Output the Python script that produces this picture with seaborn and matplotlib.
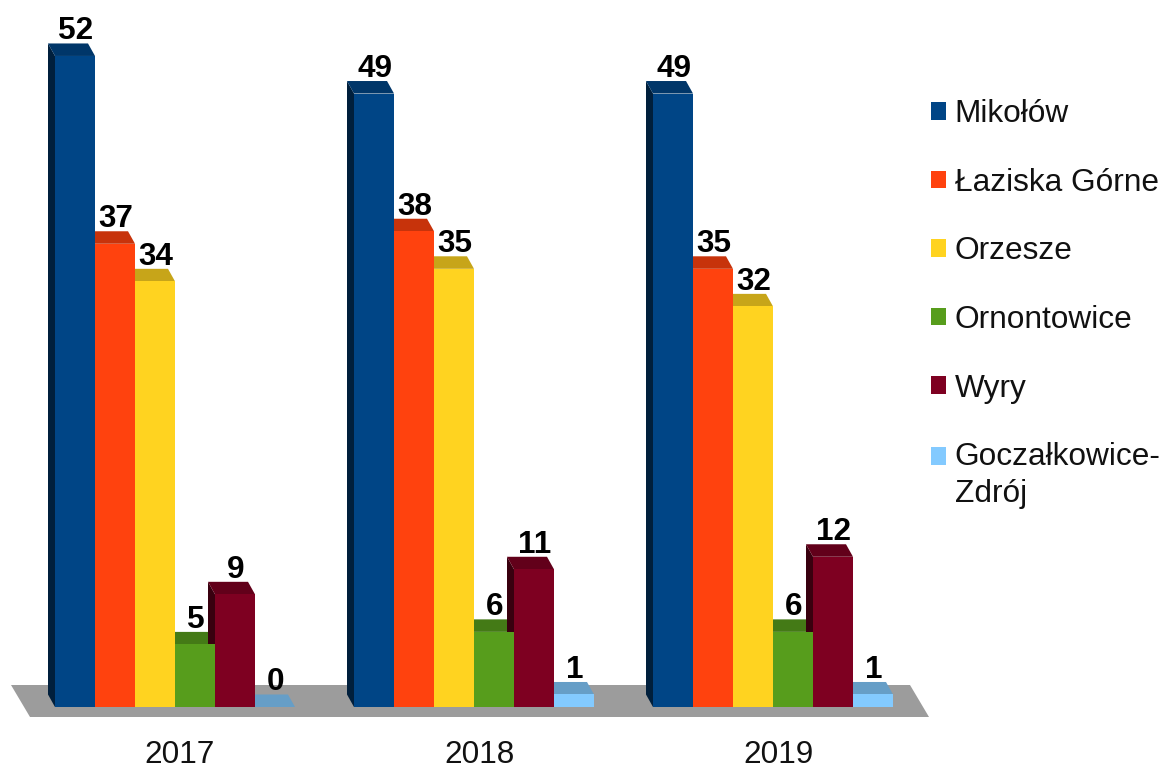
import pandas as pd
import matplotlib
matplotlib.use("Agg")
import matplotlib.pyplot as plt
import matplotlib.colors as mcolors
import seaborn as sns

years = ["2017", "2018", "2019"]
towns = ["Mikołów", "Łaziska Górne", "Orzesze", "Ornontowice", "Wyry", "Goczałkowice-\nZdrój"]
mikolow = [52, 49, 49]
laziska = [37, 38, 35]
orzesze = [34, 35, 32]
ornontowice = [5, 6, 6]
wyry = [9, 11, 12]
goczalkowice = [0, 1, 1]
colors = ["#004586", "#FF420E", "#FFD320", "#579D1C", "#7E0021", "#83CAFF"]

# ===============================
# Pixel scale of the picture
# ===============================
W, H = 1166, 769
BASE_Y = 707
PX_UNIT_Y = 12.52
PX_UNIT_X = 299
FIRST_X = 175
DEPTH_X = 7 / PX_UNIT_X
DEPTH_Y = 12.5 / PX_UNIT_Y

sns.set_theme(style="white")
plt.rcParams["font.family"] = ["Liberation Sans", "DejaVu Sans"]

rows = []
for town, vals in zip(towns, [mikolow, laziska, orzesze, ornontowice, wyry, goczalkowice]):
    for year, v in zip(years, vals):
        rows.append({"year": year, "town": town, "value": v})
df = pd.DataFrame(rows)

fig = plt.figure(figsize=(W / 100, H / 100), dpi=100)
ax = fig.add_axes([0, (H - BASE_Y) / H, 1, BASE_Y / H])

sns.barplot(data=df, x="year", y="value", hue="town", hue_order=towns, palette=colors,
            width=240 / 299, saturation=1, gap=0, linewidth=0, errorbar=None, ax=ax, zorder=5)

ax.set_xlim(-FIRST_X / PX_UNIT_X, (W - FIRST_X) / PX_UNIT_X)
ax.set_ylim(0, BASE_Y / PX_UNIT_Y)
ax.set_xlabel("")
ax.set_ylabel("")
ax.set_yticks([])
ax.tick_params(axis="x", length=0, pad=23.5, labelsize=22.7, labelcolor="#111111")
sns.despine(ax=ax, left=True, bottom=True, top=True, right=True)
ax.patch.set_alpha(0)


def to_x(px):
    return (px - FIRST_X) / PX_UNIT_X


def to_y(py):
    return (BASE_Y - py) / PX_UNIT_Y


# grey floor under the bars
ax.fill([to_x(11), to_x(910), to_x(929), to_x(30)],
        [to_y(685), to_y(685), to_y(717), to_y(717)],
        color="#9C9C9C", lw=0, clip_on=False, zorder=1)

# fake 3D: sides and tops, left to right, front faces stay on top
bars = []
for container, color in zip(ax.containers, colors):
    for bar in container:
        bars.append((bar, color))
bars.sort(key=lambda b: b[0].get_x())

for n, (bar, color) in enumerate(bars):
    l = bar.get_x()
    r = l + bar.get_width()
    h = bar.get_height()
    rgb = mcolors.to_rgb(color)
    top_c = tuple(c * 0.78 for c in rgb)
    side_c = tuple(c * 0.45 for c in rgb)
    ax.fill([l, l - DEPTH_X, l - DEPTH_X, l], [h, h + DEPTH_Y, DEPTH_Y, 0],
            color=side_c, lw=0, zorder=2 + n * 0.01)
    ax.fill([l, l - DEPTH_X, r - DEPTH_X, r], [h, h + DEPTH_Y, h + DEPTH_Y, h],
            color=top_c, lw=0, zorder=2 + n * 0.01)
    ax.annotate(f"{h:.0f}", xy=((l + r) / 2, h), xytext=(0.7, 12.0), textcoords="offset points",
                ha="center", va="baseline", fontsize=22.7, fontweight="bold", color="#000000",
                zorder=6)

# year labels sit a bit right of the group centre
offset = matplotlib.transforms.ScaledTranslation(5 / 100, 0, fig.dpi_scale_trans)
for label in ax.get_xticklabels():
    label.set_transform(label.get_transform() + offset)

handles, labels = ax.get_legend_handles_labels()
leg = ax.legend(handles, labels, loc="upper left", bbox_to_anchor=(931 / W, (BASE_Y - 99) / BASE_Y),
                frameon=False, fontsize=22.8, borderpad=0, borderaxespad=0,
                handlelength=0.48, handleheight=0.48, handletextpad=0.27,
                labelspacing=1.22, labelcolor="#111111")

# two-line entry: square goes beside the first line, lines a little looser
last_handle = leg.legend_handles[-1]
last_handle.set_y(last_handle.get_y() + 14)
leg.get_texts()[-1].set_linespacing(1.28)

fig.savefig("out.png", dpi=100, facecolor="white")
